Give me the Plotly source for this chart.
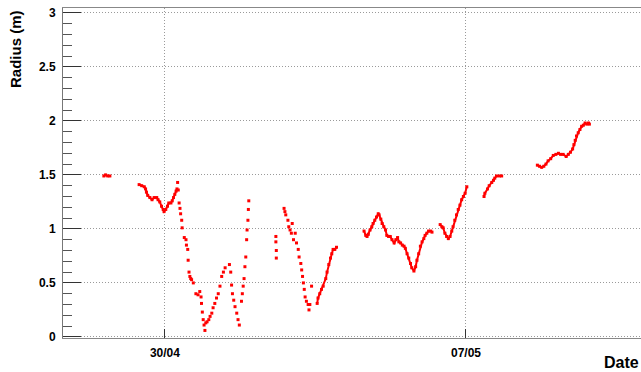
import pandas as pd
import plotly.graph_objects as go

# Radius measurements: time in days after 30/04 00:00, radius in metres.
# Each block is one run of readings; dense runs are drawn as joined chains.
days_a = [-1.42, -1.38, -1.33, -1.28]
radius_a = [1.49, 1.50, 1.49, 1.49]

days_b = [-0.60, -0.54, -0.48, -0.45, -0.43, -0.40, -0.35, -0.30, -0.25, -0.19,
          -0.16, -0.12, -0.08, -0.04, -0.02, 0.02, 0.06, 0.09, 0.14, 0.17,
          0.20, 0.23, 0.26, 0.28]
radius_b = [1.41, 1.40, 1.39, 1.37, 1.34, 1.31, 1.29, 1.27, 1.29, 1.29,
            1.27, 1.25, 1.21, 1.18, 1.16, 1.18, 1.21, 1.24, 1.24, 1.26,
            1.29, 1.32, 1.35, 1.37]

days_w = [0.295, 0.31, 0.33, 0.35, 0.365, 0.39, 0.40, 0.45, 0.49, 0.50,
          0.53, 0.54, 0.56, 0.58, 0.60, 0.62, 0.66, 0.72, 0.77, 0.81,
          0.84, 0.85, 0.87, 0.89, 0.91, 0.93, 0.95, 0.98, 1.02, 1.05,
          1.09, 1.12, 1.16, 1.20, 1.24, 1.28, 1.32, 1.36, 1.40, 1.50,
          1.53, 1.55, 1.57, 1.60, 1.63, 1.67, 1.70, 1.73,
          1.78, 1.80, 1.82, 1.84, 1.86, 1.88, 1.90, 1.91, 1.93, 1.94, 1.95]
radius_w = [1.43, 1.36, 1.24, 1.19, 1.14, 1.08, 1.01, 0.92, 0.90, 0.85,
            0.81, 0.71, 0.60, 0.56, 0.54, 0.53, 0.50, 0.40, 0.39, 0.42,
            0.37, 0.31, 0.23, 0.16, 0.11, 0.06, 0.13, 0.14, 0.16, 0.19,
            0.22, 0.27, 0.31, 0.36, 0.40, 0.47, 0.56, 0.60, 0.64, 0.67,
            0.60, 0.48, 0.40, 0.34, 0.28, 0.22, 0.16, 0.11,
            0.33, 0.40, 0.47, 0.54, 0.65, 0.74, 0.90, 0.99, 1.08, 1.18, 1.26]

days_c = [2.58, 2.58, 2.59, 2.59,
          2.77, 2.79, 2.81, 2.86, 2.88, 2.91, 2.94, 2.96, 3.03, 2.99,
          3.06, 3.10, 3.12, 3.16, 3.18, 3.20, 3.22, 3.24, 3.26, 3.29,
          3.33, 3.35, 3.37, 3.41]
radius_c = [0.93, 0.88, 0.80, 0.73,
            1.19, 1.16, 1.13, 1.08, 1.02, 0.99, 0.96, 1.05, 0.96, 0.90,
            0.87, 0.81, 0.74, 0.68, 0.62, 0.56, 0.50, 0.44, 0.37, 0.33,
            0.30, 0.25, 0.30, 0.47]

days_c2 = [3.54, 3.56, 3.60, 3.64, 3.68, 3.74, 3.77, 3.81, 3.85, 3.88,
           3.91, 3.95, 3.99]
radius_c2 = [0.31, 0.36, 0.40, 0.44, 0.47, 0.54, 0.60, 0.67, 0.73, 0.77,
             0.81, 0.81, 0.83]

days_d = [4.63, 4.67, 4.70, 4.73, 4.77, 4.81, 4.84, 4.88, 4.92, 4.96,
          4.98, 5.02, 5.05, 5.09, 5.13, 5.16, 5.20, 5.24, 5.28, 5.33,
          5.37, 5.41, 5.44, 5.48, 5.52, 5.56, 5.59, 5.63, 5.67, 5.71,
          5.74, 5.79, 5.83, 5.86, 5.90, 5.94, 5.98, 6.02, 6.05, 6.09,
          6.13, 6.18, 6.21]
radius_d = [0.98, 0.94, 0.93, 0.95, 0.99, 1.02, 1.05, 1.08, 1.11, 1.14,
            1.13, 1.09, 1.05, 1.02, 0.99, 0.94, 0.93, 0.93, 0.90, 0.87,
            0.90, 0.92, 0.88, 0.87, 0.85, 0.84, 0.82, 0.77, 0.73, 0.68,
            0.64, 0.61, 0.65, 0.71, 0.77, 0.84, 0.88, 0.91, 0.94, 0.96,
            0.98, 0.98, 0.97]

days_d2 = [6.40, 6.44, 6.47, 6.51, 6.55, 6.59, 6.63, 6.67, 6.70, 6.74,
           6.78, 6.82, 6.86, 6.90, 6.94, 6.98, 7.02]
radius_d2 = [1.04, 1.02, 1.01, 0.96, 0.93, 0.91, 0.93, 0.98, 1.02, 1.08,
             1.13, 1.18, 1.22, 1.27, 1.30, 1.33, 1.39]

days_e = [7.42, 7.44, 7.50, 7.54, 7.60, 7.64, 7.67, 7.71, 7.78, 7.83]
radius_e = [1.30, 1.33, 1.37, 1.40, 1.43, 1.45, 1.47, 1.49, 1.49, 1.49]

days_f = [8.66, 8.71, 8.76, 8.81, 8.86, 8.91, 8.97, 9.03, 9.09, 9.15,
          9.20, 9.26, 9.33, 9.38, 9.43, 9.48, 9.51, 9.54, 9.57, 9.61,
          9.65, 9.69, 9.73, 9.77, 9.81, 9.85, 9.87]
radius_f = [1.59, 1.58, 1.57, 1.58, 1.60, 1.63, 1.65, 1.68, 1.69, 1.70,
            1.69, 1.69, 1.67, 1.69, 1.71, 1.74, 1.78, 1.82, 1.86, 1.89,
            1.92, 1.95, 1.96, 1.98, 1.97, 1.98, 1.97]

origin = pd.Timestamp("2014-04-30 00:00")
tick_dates = ["2014-04-30", "2014-05-07"]
tick_text = ["30/04", "07/05"]
y_tick_vals = [0, 0.5, 1, 1.5, 2, 2.5, 3]
y_tick_text = ["0", "0.5", "1", "1.5", "2", "2.5", "3"]
x_range = [-2.37, 11.07]
y_range = [-0.01, 3.045]

RED = "#ff0000"
FONT = "Liberation Sans, Arial, sans-serif"


def to_time(d):
    return origin + pd.to_timedelta(d, unit="D")


# (days, radius, joined): joined runs are sampled densely enough to read as a band
runs = [
    (days_a, radius_a, True),
    (days_b, radius_b, True),
    (days_w, radius_w, False),
    (days_c, radius_c, False),
    (days_c2, radius_c2, True),
    (days_d, radius_d, True),
    (days_d2, radius_d2, True),
    (days_e, radius_e, True),
    (days_f, radius_f, True),
]

fig = go.Figure()
for d, r, joined in runs:
    fig.add_trace(go.Scatter(
        x=to_time(d), y=r,
        mode="lines+markers" if joined else "markers",
        line=dict(color=RED, width=2),
        marker=dict(symbol="square", size=3, color=RED, line=dict(width=0)),
        hoverinfo="x+y", showlegend=False,
    ))

tick_font = dict(family=FONT, size=12, color="#000000", weight="bold")

fig.update_layout(
    width=641, height=372,
    margin=dict(l=63, r=0, t=8, b=34),
    paper_bgcolor="#ffffff", plot_bgcolor="#ffffff",
    font=dict(family=FONT),
)

fig.update_xaxes(
    type="date",
    range=[to_time(x_range[0]), to_time(x_range[1])],
    tickvals=tick_dates, ticktext=tick_text,
    ticks="inside", ticklen=9, tickwidth=1, tickcolor="#333333",
    showline=True, linecolor="#888888", linewidth=1, mirror=True,
    showgrid=True, gridcolor="#9a9a9a", griddash="1px,2px", gridwidth=1,
    zeroline=False,
    tickfont=tick_font,
    ticklabelstandoff=4,
)

fig.update_yaxes(
    range=y_range,
    tickvals=y_tick_vals, ticktext=y_tick_text,
    ticks="inside", ticklen=18, tickwidth=1, tickcolor="#333333",
    minor=dict(ticks="inside", ticklen=9, tickcolor="#555555", dtick=0.1, showgrid=False),
    showline=True, linecolor="#777777", linewidth=1,
    showgrid=True, gridcolor="#9a9a9a", griddash="1px,2px", gridwidth=1,
    zeroline=False,
    tickfont=tick_font,
    ticklabelstandoff=4,
)

# axis titles, placed at the far ends of each axis
fig.add_annotation(
    text="<b>Radius (m)</b>", textangle=-90,
    xref="paper", yref="paper", x=-0.083, y=1.0,
    xanchor="center", yanchor="top", showarrow=False,
    font=dict(family=FONT, size=15, color="#000000"),
)
fig.add_annotation(
    text="<b>Date</b>",
    xref="paper", yref="paper", x=1.0, y=-0.042,
    xanchor="right", yanchor="top", showarrow=False,
    font=dict(family=FONT, size=16, color="#000000"),
)

fig.write_html("out.html")
